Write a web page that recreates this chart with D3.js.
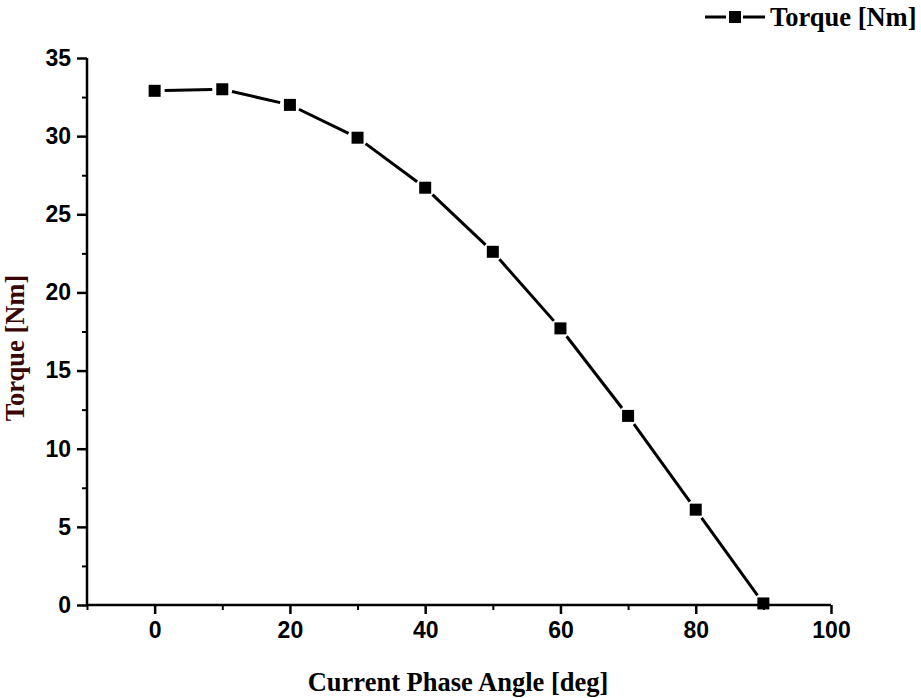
<!DOCTYPE html>
<html>
<head>
<meta charset="utf-8">
<script src="https://cdn.jsdelivr.net/npm/d3@7"></script>
<style>
  body { margin: 0; background: #fff; }
  .tick text { font-family: "Liberation Sans", Arial, sans-serif; font-weight: bold; font-size: 23px; fill: #000; }
  .title { font-family: "Liberation Serif", "Times New Roman", serif; font-weight: bold; font-size: 26.5px; }
</style>
</head>
<body>
<svg width="921" height="698"></svg>
<script>
var angles = [0, 10, 20, 30, 40, 50, 60, 70, 80, 90];
var torque = [32.9, 33.0, 32.0, 29.9, 26.7, 22.6, 17.7, 12.1, 6.1, 0.1];
var xTicks = [0, 20, 40, 60, 80, 100];
var yTicks = [0, 5, 10, 15, 20, 25, 30, 35];

var svg = d3.select("svg");

var x = d3.scaleLinear().domain([-10, 100]).range([87, 831]);
var y = d3.scaleLinear().domain([0, 35]).range([605, 58]);

// minor ticks
svg.append("g")
    .attr("transform", "translate(0,605)")
    .call(d3.axisBottom(x).tickValues(d3.range(-10, 100, 20)).tickSize(5).tickFormat(""))
    .call(function(g) { g.select(".domain").remove(); })
    .selectAll("line").attr("stroke-width", 2);

svg.append("g")
    .attr("transform", "translate(87,0)")
    .call(d3.axisLeft(y).tickValues(d3.range(2.5, 35, 5)).tickSize(5).tickFormat(""))
    .call(function(g) { g.select(".domain").remove(); })
    .selectAll("line").attr("stroke-width", 2);

var xAxis = svg.append("g")
    .attr("transform", "translate(0,605)")
    .call(d3.axisBottom(x).tickValues(xTicks).tickSize(9).tickSizeOuter(0).tickPadding(8));
xAxis.select(".domain").attr("stroke-width", 2.5).attr("d", "M87,0H831");
xAxis.selectAll(".tick line").attr("stroke-width", 2.5);

var yAxis = svg.append("g")
    .attr("transform", "translate(87,0)")
    .call(d3.axisLeft(y).tickValues(yTicks).tickSize(10).tickSizeOuter(0).tickPadding(6));
yAxis.select(".domain").attr("stroke-width", 2.5).attr("d", "M0,58V606");
yAxis.selectAll(".tick line").attr("stroke-width", 2.5);

// line segments with a gap around the markers
var pts = angles.map(function(a, i) { return [x(a), y(torque[i])]; });
var gap = 10;
var segs = [];
for (var i = 0; i < pts.length - 1; i++) {
  var p = pts[i], q = pts[i + 1];
  var dx = q[0] - p[0], dy = q[1] - p[1], len = Math.sqrt(dx * dx + dy * dy);
  var ux = dx / len, uy = dy / len;
  segs.push([p[0] + ux * gap, p[1] + uy * gap, q[0] - ux * gap, q[1] - uy * gap]);
}
svg.append("g").selectAll("line")
  .data(segs)
  .enter().append("line")
    .attr("x1", function(d) { return d[0]; })
    .attr("y1", function(d) { return d[1]; })
    .attr("x2", function(d) { return d[2]; })
    .attr("y2", function(d) { return d[3]; })
    .attr("stroke", "#000")
    .attr("stroke-width", 3);

svg.append("g").selectAll("rect")
  .data(angles)
  .enter().append("rect")
    .attr("x", function(d) { return x(d) - 6; })
    .attr("y", function(d, i) { return y(torque[i]) - 6; })
    .attr("width", 12)
    .attr("height", 12)
    .attr("fill", "#000");

// axis titles
svg.append("text")
    .attr("class", "title")
    .attr("x", 458)
    .attr("y", 691)
    .attr("text-anchor", "middle")
    .text("Current Phase Angle [deg]");

svg.append("text")
    .attr("class", "title")
    .attr("transform", "translate(24,348) rotate(-90)")
    .attr("text-anchor", "middle")
    .attr("fill", "#3a0505")
    .text("Torque [Nm]");

// legend
var legend = svg.append("g");
legend.append("line").attr("x1", 705).attr("x2", 726).attr("y1", 17).attr("y2", 17)
    .attr("stroke", "#000").attr("stroke-width", 3);
legend.append("line").attr("x1", 743).attr("x2", 765).attr("y1", 17).attr("y2", 17)
    .attr("stroke", "#000").attr("stroke-width", 3);
legend.append("rect").attr("x", 729).attr("y", 11).attr("width", 12).attr("height", 12).attr("fill", "#000");
legend.append("text")
    .attr("class", "title")
    .attr("x", 770)
    .attr("y", 26)
    .text("Torque [Nm]");
</script>
</body>
</html>
